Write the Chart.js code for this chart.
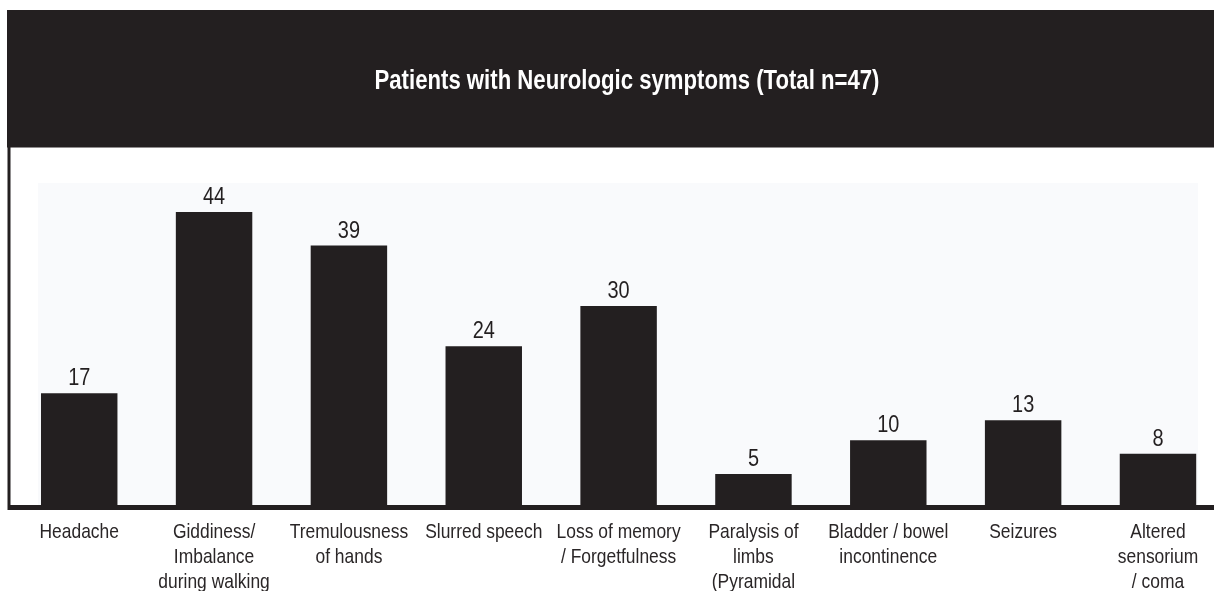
<!DOCTYPE html>
<html><head><meta charset="utf-8">
<script src="https://cdn.jsdelivr.net/npm/chart.js@4/dist/chart.umd.min.js"></script>
<style>
html,body{margin:0;padding:0;overflow:hidden;background:#fff;width:1214px;height:591px}
canvas{display:block}
</style></head>
<body>
<canvas id="c" width="1240" height="591" style="width:1240px;height:591px"></canvas>
<script>
const titleText = 'Patients with Neurologic symptoms (Total n=47)';
const categories = [
  'Headache',
  ['Giddiness/', 'Imbalance', 'during walking'],
  ['Tremulousness', 'of hands'],
  'Slurred speech',
  ['Loss of memory', '/ Forgetfulness'],
  ['Paralysis of', 'limbs', '(Pyramidal'],
  ['Bladder / bowel', 'incontinence'],
  'Seizures',
  ['Altered', 'sensorium', '/ coma']
];
const patientCounts = [17, 44, 39, 24, 30, 5, 10, 13, 8];
const yMax = 48;

const FONT = "'Liberation Sans',Arial,Helvetica,sans-serif";
const NARROW = 0.83;   // condensed look of the original typeface
const INK = '#231f20';
const LABEL_INK = '#2a2627';

function narrowText(ctx, text, x, y, factor){
  ctx.save();
  ctx.translate(x, y);
  ctx.scale(factor, 1);
  ctx.fillText(text, 0, 0);
  ctx.restore();
}

const decor = {
  id: 'decor',
  beforeDraw(chart){
    const ctx = chart.ctx, ca = chart.chartArea, W = chart.width;
    ctx.save();
    ctx.fillStyle = '#fff'; ctx.fillRect(0, 0, W, chart.height);
    ctx.fillStyle = INK; ctx.fillRect(7, 10, W - 7, 137);
    ctx.fillStyle = '#8f8c8d'; ctx.fillRect(7, 147, W - 7, 1);
    ctx.fillStyle = '#f9fafc'; ctx.fillRect(38, 183, 1198 - 38, ca.bottom - 183);
    ctx.fillStyle = '#ffffff';
    ctx.font = 'bold 27px ' + FONT;
    ctx.textAlign = 'center';
    ctx.textBaseline = 'alphabetic';
    const w = ctx.measureText(titleText).width;
    narrowText(ctx, titleText, 627, 89, 505 / w);
    ctx.restore();
  },
  afterDatasetsDraw(chart){
    const ctx = chart.ctx, ca = chart.chartArea, W = chart.width;
    const xScale = chart.scales.x;
    ctx.save();
    ctx.fillStyle = INK;
    ctx.fillRect(7.5, 147, 3, ca.bottom + 2.5 - 147);
    ctx.fillRect(9, ca.bottom - 2.5, W, 5);
    ctx.textAlign = 'center';
    ctx.textBaseline = 'alphabetic';
    // value labels above bars
    ctx.font = '24px ' + FONT;
    const meta = chart.getDatasetMeta(0);
    meta.data.forEach((bar, i) => {
      narrowText(ctx, String(patientCounts[i]), bar.x, bar.y - 8, NARROW);
    });
    // category labels under the axis
    ctx.font = '21px ' + FONT;
    ctx.fillStyle = LABEL_INK;
    categories.forEach((lab, i) => {
      const lines = Array.isArray(lab) ? lab : [lab];
      const x = xScale.getPixelForValue(i);
      lines.forEach((ln, j) => {
        narrowText(ctx, ln, x, ca.bottom + 30.5 + j * 25, NARROW);
      });
    });
    ctx.restore();
  }
};

new Chart(document.getElementById('c'), {
  type: 'bar',
  data: {
    labels: categories,
    datasets: [{
      data: patientCounts,
      backgroundColor: INK,
      borderWidth: 0,
      barPercentage: 1,
      categoryPercentage: 0.567
    }]
  },
  options: {
    responsive: false,
    devicePixelRatio: 1,
    animation: false,
    layout: { padding: { left: 11.8, right: 14.6, top: 507.5 - yMax * 6.716, bottom: 0 } },
    plugins: { legend: { display: false }, title: { display: false }, tooltip: { enabled: false } },
    scales: {
      y: { display: false, min: 0, max: yMax },
      x: {
        grid: { display: false },
        border: { display: false },
        ticks: { display: false },
        afterFit(scale){ scale.height = 591 - 507.5; }
      }
    }
  },
  plugins: [decor]
});
</script>
</body></html>
